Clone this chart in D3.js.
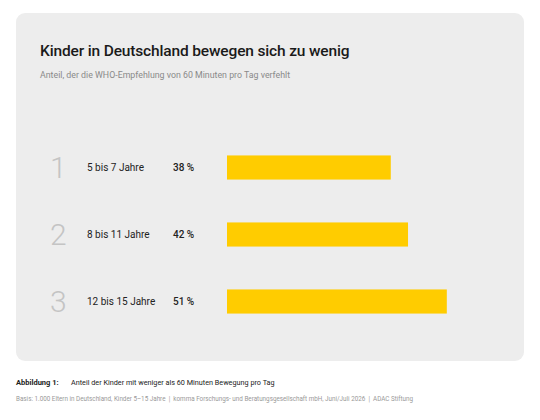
<!DOCTYPE html>
<html>
<head>
<meta charset="utf-8">
<script src="https://cdn.jsdelivr.net/npm/d3@7"></script>
<style>
  body { margin: 0; background: #fff; }
  text { font-family: Roboto, "Noto Sans", sans-serif; }
</style>
</head>
<body>
<div id="chart"></div>
<script>
var w = 540, h = 420;

// data
var ranks = ["1", "2", "3"];
var groups = ["5 bis 7 Jahre", "8 bis 11 Jahre", "12 bis 15 Jahre"];
var shares = [38, 42, 51];

var title = "Kinder in Deutschland bewegen sich zu wenig";
var subtitle = "Anteil, der die WHO-Empfehlung von 60 Minuten pro Tag verfehlt";
var figLabel = "Abbildung 1:";
var figText = "Anteil der Kinder mit weniger als 60 Minuten Bewegung pro Tag";
var source = "Basis: 1.000 Eltern in Deutschland, Kinder 5\u201315 Jahre  |  komma Forschungs- und Beratungsgesellschaft mbH, Juni/Juli 2026  |  ADAC Stiftung";

var svg = d3.select("#chart")
	.append("svg")
	.attr("width", w)
	.attr("height", h);

// panel
svg.append("rect")
	.attr("x", 16)
	.attr("y", 13)
	.attr("width", 508)
	.attr("height", 348)
	.attr("rx", 9)
	.attr("fill", "#ededed");

svg.append("text")
	.text(title)
	.attr("x", 40)
	.attr("y", 56)
	.attr("font-size", 15.5)
	.attr("font-weight", 500)
	.attr("letter-spacing", -0.15)
	.attr("fill", "#1a1a1a");

svg.append("text")
	.text(subtitle)
	.attr("x", 40)
	.attr("y", 78)
	.attr("font-size", 8.8)
	.attr("fill", "#8a8a8a");

var x = d3.scaleLinear()
	.domain([0, 100])
	.range([227, 658]);

var y = d3.scaleBand()
	.domain(groups)
	.range([134, 335])
	.paddingInner(0.64)
	.paddingOuter(0.32);

var row = svg.selectAll("g.row")
	.data(groups)
	.enter()
	.append("g")
	.attr("class", "row");

row.append("rect")
	.attr("x", x(0))
	.attr("y", function(d) { return y(d); })
	.attr("width", function(d, i) { return x(shares[i]) - x(0); })
	.attr("height", y.bandwidth())
	.attr("fill", "#ffcc00");

row.append("text")
	.text(function(d, i) { return ranks[i]; })
	.attr("x", 50)
	.attr("y", function(d) { return y(d) + y.bandwidth() / 2; })
	.attr("dy", "0.36em")
	.attr("font-size", 30)
	.attr("font-weight", 300)
	.attr("fill", "#c4c4c4");

row.append("text")
	.text(function(d) { return d; })
	.attr("x", 87)
	.attr("y", function(d) { return y(d) + y.bandwidth() / 2; })
	.attr("dy", "0.35em")
	.attr("font-size", 10)
	.attr("fill", "#222");

row.append("text")
	.text(function(d, i) { return shares[i] + " %"; })
	.attr("x", 173)
	.attr("y", function(d) { return y(d) + y.bandwidth() / 2; })
	.attr("dy", "0.35em")
	.attr("font-size", 10)
	.attr("font-weight", 500)
	.attr("fill", "#222");

// footer
svg.append("text")
	.text(figLabel)
	.attr("x", 16)
	.attr("y", 385)
	.attr("font-size", 7.5)
	.attr("font-weight", 700)
	.attr("fill", "#222");

svg.append("text")
	.text(figText)
	.attr("x", 71)
	.attr("y", 385)
	.attr("font-size", 7.25)
	.attr("fill", "#222");

svg.append("text")
	.text(source)
	.attr("x", 16)
	.attr("y", 401)
	.attr("font-size", 6.3)
	.attr("fill", "#999")
	.attr("xml:space", "preserve")
	.style("white-space", "pre");
</script>
</body>
</html>
